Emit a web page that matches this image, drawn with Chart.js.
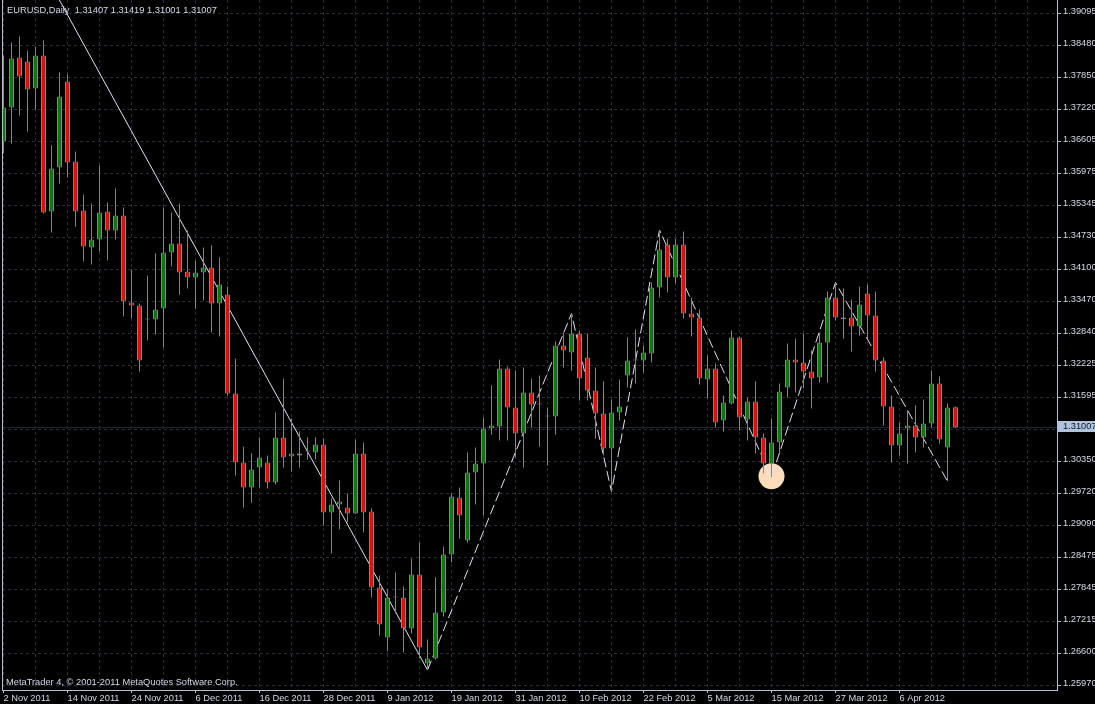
<!DOCTYPE html>
<html>
<head>
<meta charset="utf-8">
<title>EURUSD, Daily</title>
<script src="https://cdn.jsdelivr.net/npm/chart.js@4.4.1/dist/chart.umd.min.js"></script>
<style>
  html, body { margin: 0; padding: 0; background: #000; overflow: hidden; }
  canvas { display: block; }
</style>
</head>
<body>
<canvas id="chart" width="1095" height="704"></canvas>
<script>
// ---- EURUSD daily bars, 2 Nov 2011 – 17 Apr 2012 ----
const dates = [
  '2 Nov 2011','3 Nov 2011','4 Nov 2011','7 Nov 2011','8 Nov 2011','9 Nov 2011','10 Nov 2011','11 Nov 2011',
  '14 Nov 2011','15 Nov 2011','16 Nov 2011','17 Nov 2011','18 Nov 2011','21 Nov 2011','22 Nov 2011','23 Nov 2011',
  '24 Nov 2011','25 Nov 2011','28 Nov 2011','29 Nov 2011','30 Nov 2011','1 Dec 2011','2 Dec 2011','5 Dec 2011',
  '6 Dec 2011','7 Dec 2011','8 Dec 2011','9 Dec 2011','12 Dec 2011','13 Dec 2011','14 Dec 2011','15 Dec 2011',
  '16 Dec 2011','19 Dec 2011','20 Dec 2011','21 Dec 2011','22 Dec 2011','23 Dec 2011','26 Dec 2011','27 Dec 2011',
  '28 Dec 2011','29 Dec 2011','30 Dec 2011','2 Jan 2012','3 Jan 2012','4 Jan 2012','5 Jan 2012','6 Jan 2012',
  '9 Jan 2012','10 Jan 2012','11 Jan 2012','12 Jan 2012','13 Jan 2012','16 Jan 2012','17 Jan 2012','18 Jan 2012',
  '19 Jan 2012','20 Jan 2012','23 Jan 2012','24 Jan 2012','25 Jan 2012','26 Jan 2012','27 Jan 2012','30 Jan 2012',
  '31 Jan 2012','1 Feb 2012','2 Feb 2012','3 Feb 2012','6 Feb 2012','7 Feb 2012','8 Feb 2012','9 Feb 2012',
  '10 Feb 2012','13 Feb 2012','14 Feb 2012','15 Feb 2012','16 Feb 2012','17 Feb 2012','20 Feb 2012','21 Feb 2012',
  '22 Feb 2012','23 Feb 2012','24 Feb 2012','27 Feb 2012','28 Feb 2012','29 Feb 2012','1 Mar 2012','2 Mar 2012',
  '5 Mar 2012','6 Mar 2012','7 Mar 2012','8 Mar 2012','9 Mar 2012','12 Mar 2012','13 Mar 2012','14 Mar 2012',
  '15 Mar 2012','16 Mar 2012','19 Mar 2012','20 Mar 2012','21 Mar 2012','22 Mar 2012','23 Mar 2012','26 Mar 2012',
  '27 Mar 2012','28 Mar 2012','29 Mar 2012','30 Mar 2012','2 Apr 2012','3 Apr 2012','4 Apr 2012','5 Apr 2012',
  '6 Apr 2012','9 Apr 2012','10 Apr 2012','11 Apr 2012','12 Apr 2012','13 Apr 2012','16 Apr 2012','17 Apr 2012'
];

const open = [
  1.36595, 1.37259, 1.38236, 1.38158, 1.37630, 1.38275, 1.35228, 1.36087,
  1.37767, 1.36205, 1.35247, 1.34525, 1.34681, 1.35228, 1.34857, 1.35150,
  1.33451, 1.33392, 1.33119, 1.33119, 1.33333, 1.34427, 1.34603, 1.34056,
  1.33939, 1.34037, 1.34134, 1.33431, 1.33607, 1.31673, 1.30326, 1.29837,
  1.30228, 1.30326, 1.29935, 1.30814, 1.30443, 1.30501, 1.30540, 1.30521,
  1.30677, 1.29349, 1.29505, 1.29447, 1.29330, 1.30501, 1.29369, 1.27884,
  1.26908, 1.27689, 1.27689, 1.27083, 1.28138, 1.26400, 1.26497, 1.27396,
  1.28529, 1.29642, 1.28802, 1.30130, 1.30306, 1.30990, 1.31029, 1.32162,
  1.31400, 1.30892, 1.31693, 1.31458, 1.31224, 1.31224, 1.32611, 1.32474,
  1.32845, 1.32376, 1.31732, 1.31283, 1.30599, 1.31302, 1.32025, 1.32318,
  1.32318, 1.32455, 1.33744, 1.34583, 1.33939, 1.34583, 1.33236, 1.33158,
  1.31947, 1.32162, 1.31146, 1.31478, 1.32767, 1.31165, 1.31517, 1.30814,
  1.30306, 1.30716, 1.31790, 1.32337, 1.32279, 1.32103, 1.31986, 1.32669,
  1.33548, 1.33158, 1.33158, 1.32982, 1.33626, 1.33197, 1.32318, 1.31419,
  1.30658, 1.30990, 1.31048, 1.30814, 1.31087, 1.31869, 1.30619, 1.31407
];

const high = [
  1.38275, 1.38529, 1.38646, 1.38372, 1.38451, 1.38568, 1.36517, 1.37943,
  1.37904, 1.36400, 1.35560, 1.35384, 1.36126, 1.35404, 1.35677, 1.35306,
  1.34095, 1.33431, 1.33978, 1.34408, 1.35306, 1.35208, 1.35384, 1.34857,
  1.34271, 1.34525, 1.34564, 1.34330, 1.33763, 1.32357, 1.30638, 1.30501,
  1.30814, 1.30462, 1.31302, 1.31966, 1.31185, 1.30931, 1.30814, 1.30814,
  1.30794, 1.29622, 1.29974, 1.29720, 1.30775, 1.30716, 1.29427, 1.28119,
  1.27845, 1.28177, 1.27904, 1.28451, 1.28763, 1.26869, 1.28080, 1.28685,
  1.29720, 1.29837, 1.30521, 1.30619, 1.31205, 1.31830, 1.32337, 1.32201,
  1.32122, 1.32181, 1.31966, 1.32025, 1.31400, 1.32689, 1.32865, 1.33236,
  1.32904, 1.32845, 1.32181, 1.31908, 1.31556, 1.31947, 1.32767, 1.32923,
  1.32611, 1.33841, 1.34867, 1.34701, 1.34701, 1.34837, 1.33548, 1.33314,
  1.32415, 1.32259, 1.31634, 1.32904, 1.32780, 1.31595, 1.31908, 1.30892,
  1.31185, 1.31869, 1.32650, 1.32747, 1.32845, 1.32513, 1.32865, 1.33665,
  1.33841, 1.33724, 1.33509, 1.33763, 1.33802, 1.33665, 1.32376, 1.31634,
  1.31107, 1.31341, 1.31439, 1.31556, 1.32122, 1.32005, 1.31478, 1.31419
];

const low = [
  1.36361, 1.36556, 1.37103, 1.36790, 1.37220, 1.35189, 1.34818, 1.35775,
  1.35892, 1.34935, 1.34251, 1.34193, 1.34447, 1.34271, 1.34681, 1.33177,
  1.33138, 1.32103, 1.32708, 1.32826, 1.32572, 1.34154, 1.33607, 1.33724,
  1.33333, 1.33490, 1.32865, 1.32787, 1.31634, 1.30072, 1.29447, 1.29544,
  1.29837, 1.29818, 1.29896, 1.30228, 1.30150, 1.30228, 1.30384, 1.30384,
  1.29095, 1.28548, 1.29017, 1.29154, 1.29320, 1.28958, 1.27689, 1.26947,
  1.26634, 1.27376, 1.26615, 1.26986, 1.26497, 1.26273, 1.26480, 1.27318,
  1.28372, 1.28841, 1.28760, 1.29505, 1.29290, 1.30872, 1.30755, 1.30755,
  1.30423, 1.30228, 1.31009, 1.30638, 1.30267, 1.30872, 1.32181, 1.32122,
  1.31537, 1.31537, 1.30794, 1.30462, 1.29759, 1.31146, 1.31790, 1.31869,
  1.32083, 1.32279, 1.33548, 1.33646, 1.33822, 1.33138, 1.32787, 1.31849,
  1.31576, 1.31009, 1.30931, 1.31460, 1.30951, 1.30755, 1.30501, 1.30111,
  1.30039, 1.30501, 1.31595, 1.31693, 1.31771, 1.31380, 1.31888, 1.31888,
  1.33099, 1.32747, 1.32494, 1.32806, 1.32747, 1.32103, 1.31048, 1.30326,
  1.30462, 1.30306, 1.30521, 1.30619, 1.31009, 1.30697, 1.29960, 1.31001
];

const close = [
  1.37259, 1.38216, 1.37865, 1.37611, 1.38275, 1.35208, 1.36068, 1.37474,
  1.36185, 1.35228, 1.34544, 1.34681, 1.35208, 1.34857, 1.35150, 1.33470,
  1.33392, 1.32318, 1.33119, 1.33314, 1.34427, 1.34603, 1.34037, 1.33939,
  1.34037, 1.34134, 1.33431, 1.33802, 1.31673, 1.30326, 1.29837, 1.30189,
  1.30423, 1.29935, 1.30814, 1.30423, 1.30501, 1.30462, 1.30540, 1.30677,
  1.29349, 1.29505, 1.29564, 1.29330, 1.30501, 1.29349, 1.27884, 1.27162,
  1.27689, 1.27689, 1.27083, 1.28138, 1.26712, 1.26497, 1.27396, 1.28529,
  1.29662, 1.29290, 1.30130, 1.30306, 1.30990, 1.31048, 1.32162, 1.31400,
  1.30892, 1.31693, 1.31458, 1.31478, 1.31224, 1.32611, 1.32513, 1.32845,
  1.31966, 1.31732, 1.31283, 1.30599, 1.31302, 1.31419, 1.32318, 1.32318,
  1.32474, 1.33744, 1.34486, 1.33939, 1.34583, 1.33236, 1.33158, 1.31966,
  1.32162, 1.31107, 1.31497, 1.32767, 1.31205, 1.31517, 1.30814, 1.30306,
  1.30716, 1.31712, 1.32337, 1.32279, 1.32103, 1.31966, 1.32669, 1.33548,
  1.33158, 1.33128, 1.32982, 1.33412, 1.33197, 1.32318, 1.31419, 1.30658,
  1.30892, 1.31048, 1.30814, 1.31087, 1.31869, 1.30775, 1.31400, 1.31007
];

// ZigZag swing points (bar index relative to 2 Nov 2011, price); the first swing is the 27 Oct high
const zigzagBars   = [-4, 53, 71, 76, 82, 96, 104, 118];
const zigzagPrices = [1.42482, 1.26273, 1.33236, 1.29759, 1.34867, 1.30039, 1.33841, 1.29960];

// highlighted swing low
const markerBars   = [96];
const markerPrices = [1.30058];

// price scale
const priceTicks = [1.39095, 1.38470, 1.37845, 1.37220, 1.36595, 1.35970, 1.35345, 1.34720,
                    1.34095, 1.33470, 1.32845, 1.32220, 1.31595, 1.30970, 1.30345, 1.29720,
                    1.29095, 1.28470, 1.27845, 1.27220, 1.26595, 1.25970];
const priceTickLabels = ['1.39095','1.38480','1.37850','1.37220','1.36605','1.35975','1.35345','1.34730',
                         '1.34100','1.33470','1.32840','1.32225','1.31595','','1.30350','1.29720',
                         '1.29090','1.28475','1.27845','1.27215','1.26600','1.25970'];

const symbol = 'EURUSD';
const timeframe = 'Daily';
const copyright = 'MetaTrader 4, \u00A9 2001-2011 MetaQuotes Software Corp.';

// ---- look ----
const FONT_FAMILY = '"Liberation Sans", Arial, sans-serif';
const FONT_SIZE = 9.3;
const TEXT = '#d3dae8';
const FRAME = '#b7c1d3';
const GRID = '#292d3b';
const BIDLINE = '#23283a';
const WICK = '#858585';
const BULL = '#008000';
const BEAR = '#ff0000';
const MARKER = '#fddcbb';
const ZIGZAG = '#dfe5f3';

// visible window: 8 px per bar, price 5120 px per unit
const X_MIN = -0.1875, X_MAX = 131.6875;
const Y_MAX = 1.3935867, Y_MIN = 1.2588211;
const GRID_STEP = 4, LABEL_STEP = 8;

const last = close.length - 1;
const fmt = v => v.toFixed(5);

const bodies = dates.map((d, i) => ({ x: i, y: [open[i], close[i]] }));
const wicks = dates.map((d, i) => ({ x: i, y: [low[i], high[i]] }));
const bodyColors = open.map((o, i) => close[i] > o ? BULL : (close[i] < o ? BEAR : WICK));
const swings = zigzagBars.map((b, i) => ({ x: b, y: zigzagPrices[i] }));
const markers = markerBars.map((b, i) => ({ x: b, y: markerPrices[i] }));
const bidLine = [{ x: X_MIN, y: close[last] }, { x: X_MAX, y: close[last] }];

const gridBars = [];
for (let b = 0; b <= X_MAX; b += GRID_STEP) gridBars.push(b);
const isLabelled = v => v % LABEL_STEP === 0 && dates[v] !== undefined;

// axes keep a fixed size and do not push the plot area inwards
const fixAxis = (size) => axis => {
  if (axis.isHorizontal()) axis.height = size; else axis.width = size;
  axis.paddingLeft = axis.paddingRight = axis.paddingTop = axis.paddingBottom = 0;
};

// header, copyright, frame edge and the bid price tag
const terminalText = {
  id: 'terminalText',
  afterDraw(chart) {
    const { ctx, chartArea, scales } = chart;
    ctx.save();
    ctx.strokeStyle = FRAME;
    ctx.lineWidth = 1;
    ctx.beginPath();
    ctx.moveTo(chartArea.left + 0.5, chartArea.top);
    ctx.lineTo(chartArea.left + 0.5, chartArea.bottom + 1);
    ctx.stroke();

    ctx.font = `${FONT_SIZE}px ${FONT_FAMILY}`;
    ctx.textBaseline = 'middle';
    ctx.textAlign = 'left';
    ctx.fillStyle = TEXT;
    const header = `${symbol},${timeframe}  ${fmt(open[last])} ${fmt(high[last])} ${fmt(low[last])} ${fmt(close[last])}`;
    ctx.fillText(header, chartArea.left + 5, 10.5);
    ctx.fillText(copyright, chartArea.left + 4, chartArea.bottom - 8);

    const y = scales.y.getPixelForValue(close[last]);
    const top = Math.round(y - 6.5);
    ctx.fillStyle = '#b0c4de';
    ctx.fillRect(chartArea.right + 1, top, chart.width - chartArea.right - 1, 11);
    ctx.fillStyle = '#0a1424';
    ctx.fillText(fmt(close[last]), chartArea.right + 6, top + 5.5);
    ctx.restore();
  }
};

Chart.defaults.font.family = FONT_FAMILY;
Chart.defaults.font.size = FONT_SIZE;

new Chart(document.getElementById('chart'), {
  type: 'bar',
  data: {
    datasets: [
      {
        type: 'bar', label: 'body', data: bodies, order: 1,
        grouped: false, barThickness: 5, inflateAmount: 0, minBarLength: 1,
        backgroundColor: bodyColors, borderColor: WICK, borderWidth: 1, borderSkipped: false,
        clip: 0
      },
      {
        type: 'bar', label: 'range', data: wicks, order: 2,
        grouped: false, barThickness: 1, inflateAmount: 0,
        backgroundColor: WICK, borderWidth: 0, clip: 0
      },
      {
        type: 'line', label: 'zigzag', data: swings.slice(0, 2), order: 4,
        borderColor: ZIGZAG, borderWidth: 1, pointRadius: 0, tension: 0, clip: 0
      },
      {
        type: 'line', label: 'zigzag', data: swings.slice(1), order: 4,
        borderColor: ZIGZAG, borderWidth: 1, borderDash: [10, 4], pointRadius: 0, tension: 0, clip: 0
      },
      {
        type: 'line', label: 'bid', data: bidLine, order: 5,
        borderColor: BIDLINE, borderWidth: 1, pointRadius: 0, clip: 0
      },
      {
        type: 'scatter', label: 'marker', data: markers, order: 6,
        pointRadius: 13, pointBackgroundColor: MARKER, pointBorderWidth: 0, borderWidth: 0
      }
    ]
  },
  options: {
    responsive: false,
    animation: false,
    devicePixelRatio: 1,
    events: [],
    layout: { autoPadding: false, padding: { left: 2, top: 0, right: 0, bottom: 0 } },
    plugins: { legend: { display: false }, tooltip: { enabled: false }, title: { display: false } },
    scales: {
      x: {
        type: 'linear', position: 'bottom', min: X_MIN, max: X_MAX, offset: false,
        afterBuildTicks: axis => { axis.ticks = gridBars.map(v => ({ value: v })); },
        afterFit: fixAxis(14),
        ticks: {
          autoSkip: false, maxRotation: 0, minRotation: 0, align: 'start', padding: 0,
          color: TEXT, font: { size: FONT_SIZE },
          callback: v => isLabelled(v) ? dates[v] : ''
        },
        grid: {
          offset: false, color: GRID, lineWidth: 1, tickLength: 3,
          tickColor: ctx => (ctx.tick && isLabelled(ctx.tick.value)) ? FRAME : 'rgba(0,0,0,0)'
        },
        border: { display: true, color: FRAME, width: 1, dash: [3, 3] }
      },
      y: {
        type: 'linear', position: 'right', min: Y_MIN, max: Y_MAX, beginAtZero: false,
        afterBuildTicks: axis => { axis.ticks = priceTicks.map(v => ({ value: v })); },
        afterFit: fixAxis(38),
        ticks: {
          autoSkip: false, padding: 2, labelOffset: -2, color: TEXT, font: { size: FONT_SIZE },
          callback: v => priceTickLabels[priceTicks.indexOf(v)] ?? ''
        },
        grid: { color: GRID, lineWidth: 1, tickLength: 4, tickColor: FRAME },
        border: { display: true, color: FRAME, width: 1, dash: [3, 3] }
      }
    }
  },
  plugins: [terminalText]
});
</script>
</body>
</html>
